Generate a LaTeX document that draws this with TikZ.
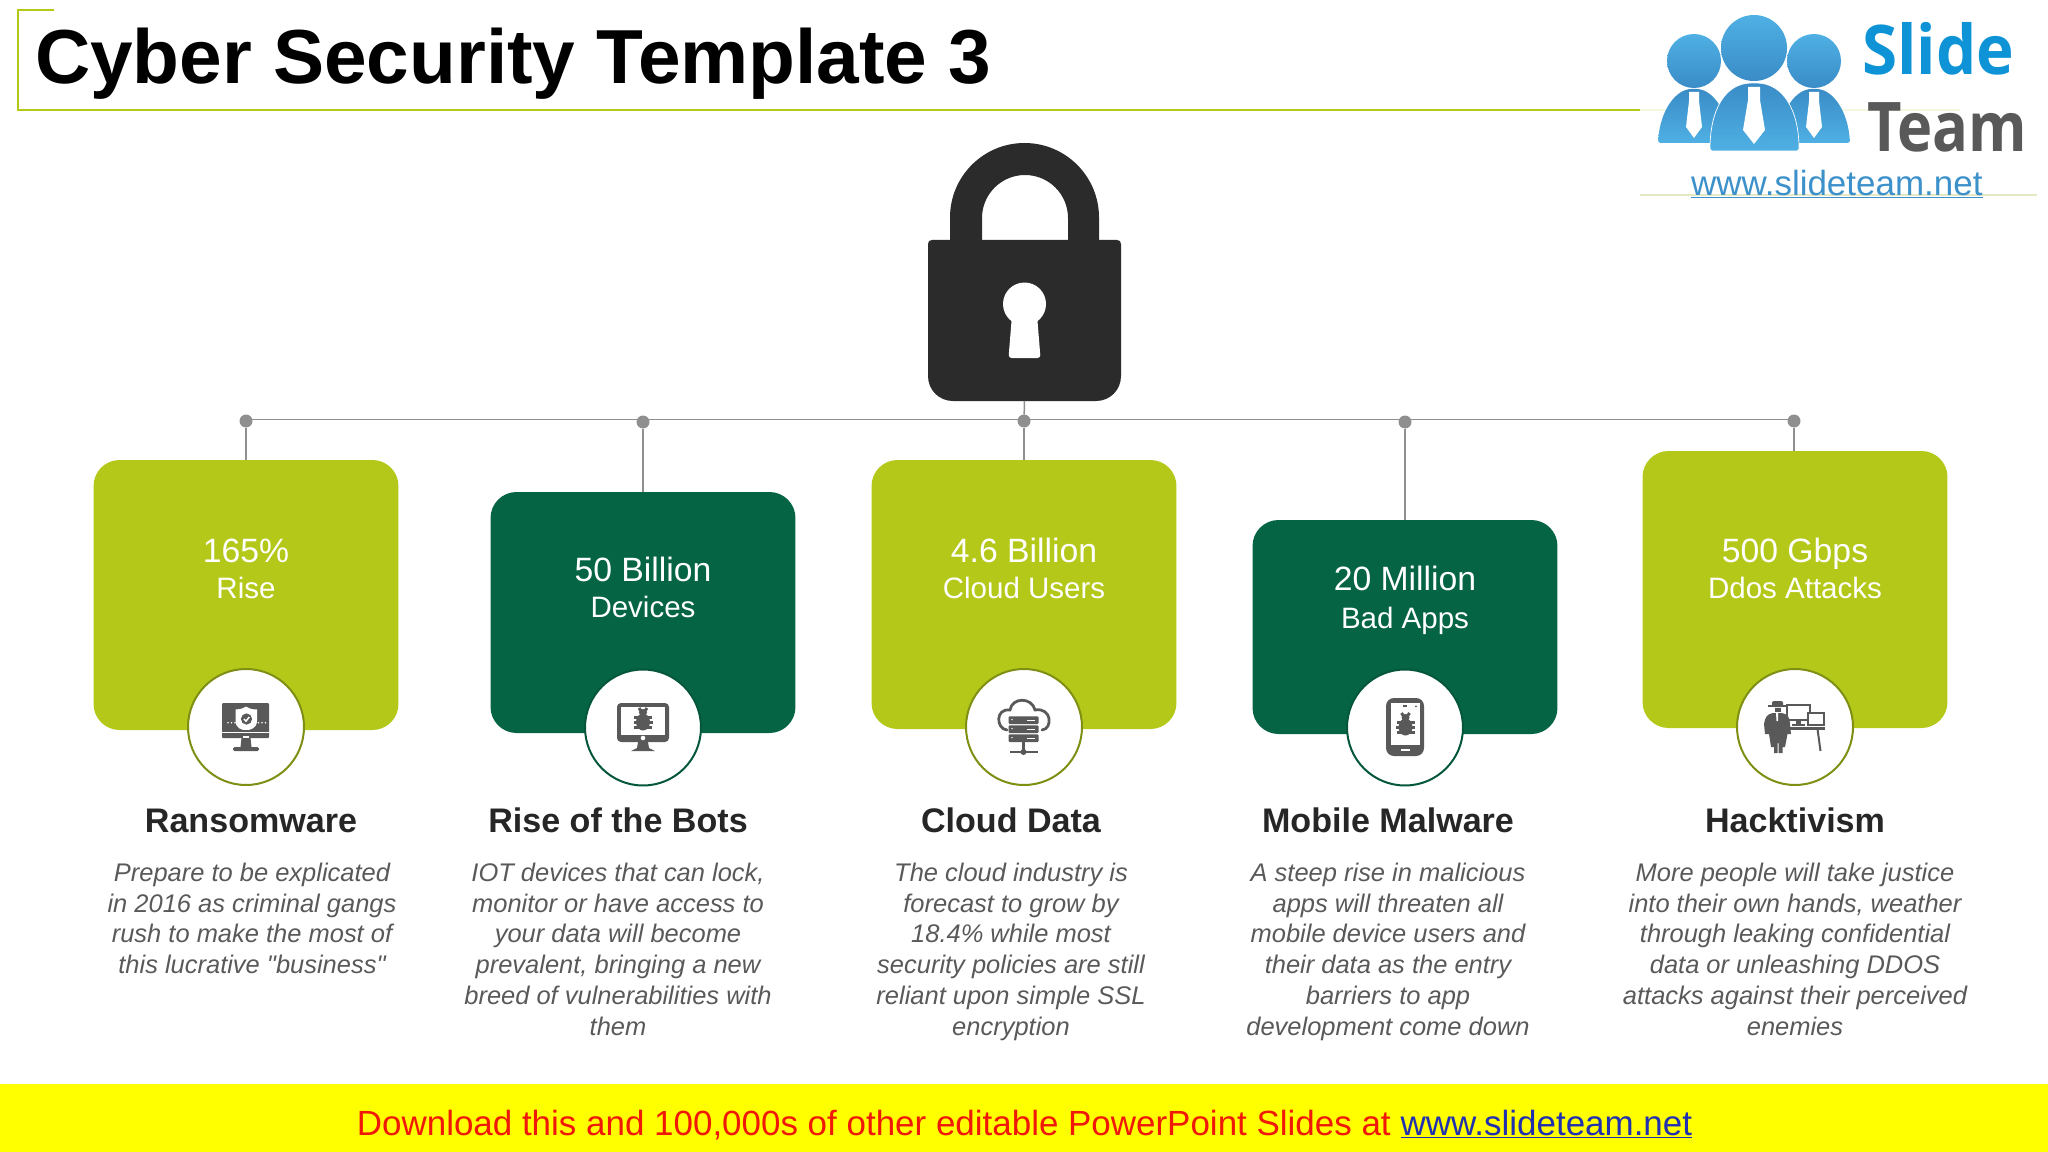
\documentclass[tikz,border=0pt]{standalone}
\usepackage{fontspec}
\setmainfont{Liberation Sans}
\newfontfamily\logofont{Open Sans}
\newfontfamily\plainfont{Liberation Sans}
\usetikzlibrary{positioning,shapes.geometric}
\definecolor{limecard}{HTML}{B4C819}
\definecolor{limeedge}{HTML}{7F8F14}
\definecolor{pinecard}{HTML}{046444}
\definecolor{pineedge}{HTML}{04563C}
\definecolor{icongray}{HTML}{595959}
\definecolor{wireg}{HTML}{8F8F8F}
\definecolor{logoblue}{HTML}{4FB0E4}
\definecolor{logodeep}{HTML}{3A8CC6}
\definecolor{slideblue}{HTML}{0D93D6}
\definecolor{bandyellow}{RGB}{255,255,0}

% one bug, drawn round the origin
\newcommand{\bugshape}[1]{%
  \begin{scope}[scale=#1]
    \fill[icongray] (0,2) ellipse (7 and 8.5);
    \fill[icongray] (0,-7.5) ellipse (4 and 3.5);
    \draw[icongray,line width=0.6mm] (-2,-9) -- (-4,-12) (2,-9) -- (4,-12);
    \draw[icongray,line width=0.6mm] (-9,-3) -- (9,-3) (-9.5,2) -- (9.5,2) (-9,7) -- (9,7);
  \end{scope}}

\begin{document}
\begin{tikzpicture}[x=0.02cm,y=-0.02cm,
  every node/.style={inner sep=0pt,outer sep=0pt},
  cardbox/.style={rounded corners=0.52cm,minimum width=6.1cm,fill=#1},
  wheel/.style={circle,draw=#1,line width=0.04cm,fill=white,minimum size=2.32cm},
  wiredot/.style={circle,fill=wireg,minimum size=0.26cm},
  wire/.style={draw=wireg,line width=0.03cm},
  valuetext/.style={text=white,anchor=base,font=\fontsize{19.2}{22}\selectfont},
  subtext/.style={text=white,anchor=base,font=\fontsize{16.8}{20}\selectfont},
  headtext/.style={text=black!85,anchor=base,font=\bfseries\fontsize{19.4}{23}\selectfont},
  bodytext/.style={text=icongray,align=center,anchor=north,font=\plainfont\itshape\fontsize{14.5}{17.5}\selectfont}
]
\useasboundingbox (0,0) rectangle (2048,1152);

% the title frame
\draw[limecard,line width=0.05cm] (54,10) -- (18,10) -- (18,110) -- (1648,110);
\node[anchor=base west] (title) at (35,84) {\bfseries\fontsize{43.6}{50}\selectfont Cyber Security Template 3};

% the logo
\draw[limecard!15,line width=0.04cm] (1640,110) -- (1960,110);
\draw[black!18!limecard!25,line width=0.03cm] (1640,195) -- (2037,195);
\begin{scope}
  \foreach \lx/\lc in {1694/1694,1814/1814}
  {
    \shade[top color=logoblue,bottom color=logodeep] (\lx,61) circle (27);
    \shade[top color=logodeep,bottom color=logoblue,rounded corners=0.05cm]
      (\lx-36,143) .. controls (\lx-34,110) and (\lx-18,89) .. (\lx,89)
      .. controls (\lx+18,89) and (\lx+34,110) .. (\lx+36,143) -- cycle;
    \fill[white] (\lc-5,92) -- (\lc+5,92) -- (\lc+5,101) -- (\lc+8,127) -- (\lc,138) -- (\lc-8,127) -- (\lc-5,101) -- cycle;
  }
  \shade[top color=logoblue,bottom color=logodeep] (1754,48) circle (33);
  \shade[top color=logodeep,bottom color=logoblue,rounded corners=0.05cm,draw=white]
    (1710,151) .. controls (1710,110) and (1725,83) .. (1754,83)
    .. controls (1783,83) and (1799,110) .. (1799,151) -- cycle;
  \fill[white] (1748,87) -- (1760,87) -- (1760,100) -- (1765,130) -- (1754,144) -- (1743,130) -- (1748,100) -- cycle;
\end{scope}
\node[anchor=base west,text=slideblue,xscale=0.93] (slide) at (1862,75) {\logofont\bfseries\fontsize{39}{44}\selectfont Slide};
\node[anchor=base west,text=black!65,xscale=0.87] (team) at (1867,152) {\logofont\bfseries\fontsize{39}{44}\selectfont Team};
\node[anchor=base west,text=logodeep!85!logoblue] (site) at (1691,195) {\fontsize{19.9}{24}\selectfont\underline{www.slideteam.net}};

% the lock
\fill[black!83] (950,245) -- (950,217.5) arc[start angle=180,end angle=360,radius=74.5] -- (1099,245) -- (1068,245)
  -- (1068,218) arc[start angle=360,end angle=180,radius=43] -- (982,245) -- cycle;
\node[minimum width=3.86cm,minimum height=3.22cm,anchor=north west] (lockbody) at (928,240) {};
\fill[black!83] (932,240) -- (1117,240) .. controls (1119.5,240) and (1121,241.5) .. (1121,244) -- (1121,376)
  .. controls (1121,390) and (1110,401) .. (1096,401) -- (953,401)
  .. controls (939,401) and (928,390) .. (928,376) -- (928,244) .. controls (928,241.5) and (929.5,240) .. (932,240) -- cycle;
\fill[white] (1024.5,304) circle (21.5);
\fill[white,rounded corners=0.06cm] (1012,315) -- (1037,315) -- (1040.5,358) -- (1008.5,358) -- cycle;

% the cards
\foreach \cname/\cx/\ct/\cb/\ccol in {a/246/460/730/limecard,b/643/492/733/pinecard,c/1024/460/729/limecard,d/1405/520/734/pinecard,e/1795/451/728/limecard}
{
  \node[cardbox=\ccol,minimum height={(\cb-\ct)*0.02cm}] (card\cname) at (\cx,{(\ct+\cb)/2}) {};
}

% the wire and its dots
\node[wiredot] (dota) at (246,421) {};
\node[wiredot] (dotb) at (643,422) {};
\node[wiredot] (dotc) at (1024,421) {};
\node[wiredot] (dotd) at (1405,422) {};
\node[wiredot] (dote) at (1794,421) {};
\coordinate (wirel) at (246,419.3);
\coordinate (wirer) at (1794,419.3);
\draw[wire] (wirel) -- (wirer);
\draw[wire] (lockbody.south) -- (dotc);
\foreach \cname in {a,b,c,d,e}
  \draw[wire] (dot\cname) -- (dot\cname |- card\cname.north);

% the wheels
\node[wheel=limeedge] (wheela) at (246,727) {};
\node[wheel=pineedge] (wheelb) at (643,727.5) {};
\node[wheel=limeedge] (wheelc) at (1024,727) {};
\node[wheel=pineedge] (wheeld) at (1405,727.5) {};
\node[wheel=limeedge] (wheele) at (1795,727) {};

% the numbers on the cards
\foreach \cx/\vy/\sy/\vtxt/\stxt in {246/562/598.5/165\%/Rise,643/581.5/617.5/50 Billion/Devices,1024/562/598.5/4.6 Billion/Cloud Users,1405/590.6/628/20 Million/Bad Apps,1795/562/598.5/500 Gbps/Ddos Attacks}
{
  \node[valuetext] at (\cx,\vy) {\vtxt};
  \node[subtext] at (\cx,\sy) {\stxt};
}

% the headings and the texts below them
\foreach \name/\cx/\bx/\htxt/\btxt in {
  ransom/251/252/Ransomware/{Prepare to be explicated\\in 2016 as criminal gangs\\rush to make the most of\\this lucrative "business"},
  bots/618/618/Rise of the Bots/{IOT devices that can lock,\\monitor or have access to\\your data will become\\prevalent, bringing a new\\breed of vulnerabilities with\\them},
  cloud/1011/1011/Cloud Data/{The cloud industry is\\forecast to grow by\\18.4\% while most\\security policies are still\\reliant upon simple SSL\\encryption},
  mobile/1388/1388/Mobile Malware/{A steep rise in malicious\\apps will threaten all\\mobile device users and\\their data as the entry\\barriers to app\\development come down},
  hack/1795/1795/Hacktivism/{More people will take justice\\into their own hands, weather\\through leaking confidential\\data or unleashing DDOS\\attacks against their perceived\\enemies}}
{
  \node[headtext] (head\name) at (\cx,832.5) {\htxt};
  \node[bodytext] (body\name) at (\bx,863) {\btxt};
}

% the icon of ransomware
\begin{scope}[shift={(246,727)}]
  \fill[icongray,rounded corners=0.02cm] (-24,-24) rectangle (23,11);
  \fill[white] (-24,5.2) rectangle (23,6.2);
  \fill[white] (-3,9) rectangle (3,11);
  \fill[icongray] (-4.5,11) -- (4.5,11) -- (5.5,20) -- (-5.5,20) -- cycle;
  \fill[icongray,rounded corners=0.03cm] (-13,20) rectangle (13,24);
  \fill[white] (0,-20.5) .. controls (-4,-18) and (-7,-17.5) .. (-10.5,-17.5) -- (-10.5,-6)
    .. controls (-10.5,1) and (-4,3.5) .. (0,3) .. controls (4,3.5) and (11,1) .. (11,-6) -- (11,-17.5)
    .. controls (7,-17.5) and (4,-18) .. (0,-20.5) -- cycle;
  \fill[icongray] (0.5,-8) circle (5.6);
  \draw[white,line width=0.03cm] (-2,-8) -- (0,-5.8) -- (3.2,-10);
  \foreach \dotx in {-18,-14.5,-11,12.5,16,19.5}
    \fill[white] (\dotx,-4.3) circle (0.8);
\end{scope}

% the icon of the bots
\begin{scope}[shift={(643,727)}]
  \fill[icongray,rounded corners=0.08cm] (-26,-24) rectangle (26,15);
  \fill[white] (-22,-20) rectangle (22,8);
  \fill[white] (0,11) circle (2.3);
  \fill[icongray] (-5,15) -- (5,15) -- (6,21) -- (12,24) -- (-12,24) -- (-6,21) -- cycle;
  \begin{scope}[shift={(0,-7)}]
    \bugshape{1}
  \end{scope}
\end{scope}

% the icon of cloud data
\begin{scope}[shift={(1024,727)}]
  \draw[icongray,line width=0.055cm,line cap=round] (-17,3)
    .. controls (-28,2) and (-29,-19) .. (-14,-17) .. controls (-12,-30) and (8,-30) .. (11,-17)
    .. controls (28,-20) and (29,2) .. (18,3);
  \foreach \sy in {-10,-1,8}
  {
    \fill[icongray,rounded corners=0.02cm] (-15.5,\sy-0.7) rectangle (14.5,\sy+7);
    \fill[white] (3,\sy+2.6) rectangle (11,\sy+4.4);
    \fill[white] (-12,\sy+2.6) circle (0.8);
  }
  \draw[icongray,line width=0.05cm] (-0.5,15) -- (-0.5,25);
  \draw[icongray,line width=0.05cm] (-14,25) -- (14,25);
  \fill[icongray] (-0.5,25) circle (3);
\end{scope}

% the icon of mobile malware
\begin{scope}[shift={(1405,727)}]
  \fill[icongray,rounded corners=0.16cm] (-19,-29) rectangle (19,29);
  \fill[white] (-14,-24.5) rectangle (15,18);
  \fill[white] (-4,21.5) rectangle (5,24);
  \fill[icongray] (-2,-22) rectangle (2,-20);
  \fill[icongray] (11,-20.7) circle (1);
  \begin{scope}[shift={(0.5,-2)}]
    \bugshape{1}
  \end{scope}
\end{scope}

% the icon of hacktivism
\begin{scope}[shift={(1795,727)}]
  \draw[icongray,line width=0.05cm] (-8,-22) rectangle (15,-7);
  \fill[icongray] (1,-7) rectangle (6,-3);
  \fill[icongray] (-3.5,-3) rectangle (10,-1);
  \fill[white,draw=icongray,line width=0.04cm] (12.5,-14) rectangle (29,-2);
  \fill[icongray] (-8,0) rectangle (29.5,2.5);
  \draw[icongray,line width=0.04cm] (22.5,2) -- (25.5,24);
  % the man
  \fill[icongray] (-27,-22.5) rectangle (-7,-20.5);
  \fill[icongray,rounded corners=0.04cm] (-23,-26) rectangle (-12,-20);
  \fill[icongray] (-20.5,-19) rectangle (-14,-15);
  \fill[icongray] (-22,-14) .. controls (-28,-13) and (-30,-10) .. (-31,-3) -- (-30,7) -- (-26,7) -- (-24,20) -- (-21,20) -- (-21,26)
    -- (-17.5,26) -- (-17.5,16) -- (-16.5,16) -- (-16.5,26) -- (-12.5,26) -- (-12.5,20) -- (-10,20) -- (-7.5,7) -- (-4,7) -- (-5,-3)
    .. controls (-5,-10) and (-8,-13) .. (-13,-14) -- cycle;
  \fill[white] (-19,-14) -- (-17,-14) -- (-17,-6) -- (-18.5,-6) -- cycle;
\end{scope}

% the band
\fill[bandyellow] (0,1084) rectangle (2048,1152);
\node[anchor=base] (band) at (1024.5,1135) {\fontsize{19.9}{24}\selectfont\textcolor[HTML]{F01808}{Download this and 100,000s of other editable PowerPoint Slides at }\textcolor[HTML]{2030B0}{\underline{www.slideteam.net}}};
\end{tikzpicture}
\end{document}
